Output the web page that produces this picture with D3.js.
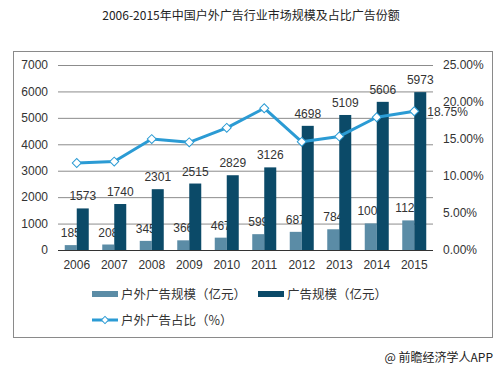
<!DOCTYPE html>
<html><head><meta charset="utf-8">
<script src="https://cdn.jsdelivr.net/npm/d3@7"></script>
<style>
html,body{margin:0;padding:0;background:#fff;}
svg{display:block;}
</style>
</head><body>
<svg id="c" width="501" height="369"></svg>
<script>
const years = ["2006","2007","2008","2009","2010","2011","2012","2013","2014","2015"];
const outdoorScale = [185,208,345,366,467,599,687,784,1006,1120];
const adScale = [1573,1740,2301,2515,2829,3126,4698,5109,5606,5973];
const outdoorShare = [11.76,11.95,14.99,14.55,16.51,19.16,14.62,15.35,17.94,18.75];
const leftTicks = [0,1000,2000,3000,4000,5000,6000,7000];
const rightTicks = [0,5,10,15,20,25];
const title = "2006-2015年中国户外广告行业市场规模及占比广告份额";
const legendNames = ["户外广告规模（亿元）","广告规模（亿元）","户外广告占比（%）"];
const source = "@ 前瞻经济学人APP";

const cLight = "#5b8ca6", cDark = "#0b4a68", cLine = "#2b9bd4";
const font = "'Liberation Sans', Arial, sans-serif";
const cjk = "'Noto Sans CJK SC', sans-serif";

const svg = d3.select("#c");
const L = 58, R = 433, T = 65, B = 250;

const x = d3.scaleBand().domain(years).range([L, R]).paddingInner(0).paddingOuter(0);
const yL = d3.scaleLinear().domain([0, 7000]).range([B, T]);
const yR = d3.scaleLinear().domain([0, 25]).range([B, T]);

// frame
svg.append("rect").attr("x", 13.5).attr("y", 51.5).attr("width", 479).attr("height", 286)
  .attr("fill", "none").attr("stroke", "#8a8a8a");

// title
svg.append("text").attr("x", 251).attr("y", 20).attr("text-anchor", "middle")
  .attr("font-family", cjk).attr("font-size", 12).attr("fill", "#222").text(title);

// gridlines
const gL = svg.append("g").attr("transform", `translate(${L},0)`)
  .call(d3.axisLeft(yL).tickValues(leftTicks).tickSize(-(R - L)).tickPadding(10).tickFormat(d3.format("d")));
gL.select(".domain").remove();
gL.selectAll(".tick line").attr("stroke", d => d === 0 ? "#333" : "#8c8c8c").attr("stroke-width", 1);
gL.selectAll(".tick text").attr("font-family", font).attr("font-size", 12).attr("fill", "#333");

const gR = svg.append("g").attr("transform", `translate(${R},0)`)
  .call(d3.axisRight(yR).tickValues(rightTicks).tickSize(0).tickPadding(10).tickFormat(d => d3.format(".2f")(d) + "%"));
gR.select(".domain").remove();
gR.selectAll(".tick text").attr("font-family", font).attr("font-size", 12).attr("fill", "#333");

// x axis labels
const gX = svg.append("g").attr("transform", `translate(0,${B})`)
  .call(d3.axisBottom(x).tickSize(0).tickPadding(10));
gX.select(".domain").remove();
gX.selectAll(".tick text").attr("font-family", font).attr("font-size", 12).attr("fill", "#333");

const bw = 12;
const cx = d => x(d) + x.bandwidth() / 2;

// light bars
svg.append("g").selectAll("rect").data(years).join("rect")
  .attr("x", (d) => cx(d) - bw).attr("width", bw)
  .attr("y", (d, i) => yL(outdoorScale[i])).attr("height", (d, i) => B - yL(outdoorScale[i]))
  .attr("fill", cLight);
// light labels (drawn before dark bars)
svg.append("g").selectAll("text").data(years).join("text")
  .attr("x", d => cx(d) - bw / 2).attr("y", (d, i) => yL(outdoorScale[i]) - 8)
  .attr("text-anchor", "middle").attr("font-family", font).attr("font-size", 12).attr("fill", "#333")
  .text((d, i) => outdoorScale[i]);
// dark bars
svg.append("g").selectAll("rect").data(years).join("rect")
  .attr("x", (d) => cx(d)).attr("width", bw)
  .attr("y", (d, i) => yL(adScale[i])).attr("height", (d, i) => B - yL(adScale[i]))
  .attr("fill", cDark);
svg.append("g").selectAll("text").data(years).join("text")
  .attr("x", d => cx(d) + bw / 2).attr("y", (d, i) => yL(adScale[i]) - 8)
  .attr("text-anchor", "middle").attr("font-family", font).attr("font-size", 12).attr("fill", "#333")
  .text((d, i) => adScale[i]);

// line
const line = d3.line().x((d, i) => cx(years[i])).y(d => yR(d));
svg.append("path").datum(outdoorShare).attr("d", line).attr("fill", "none")
  .attr("stroke", cLine).attr("stroke-width", 3).attr("stroke-linejoin", "round");
const diamond = d3.symbol().type(d3.symbolDiamond2 || d3.symbolDiamond).size(60);
svg.append("g").selectAll("path").data(outdoorShare).join("path")
  .attr("transform", (d, i) => `translate(${cx(years[i])},${yR(d)}) rotate(45)`)
  .attr("d", d3.symbol().type(d3.symbolSquare).size(40))
  .attr("fill", "#fff").attr("stroke", cLine).attr("stroke-width", 1);
// last point label
const li = outdoorShare.length - 1;
svg.append("text").attr("x", cx(years[li]) + 13).attr("y", yR(outdoorShare[li]) + 5)
  .attr("font-family", font).attr("font-size", 12).attr("fill", "#333")
  .text(d3.format(".2f")(outdoorShare[li]) + "%");

// legend
const lg = svg.append("g");
lg.append("rect").attr("x", 92).attr("y", 291).attr("width", 26).attr("height", 6).attr("fill", cLight);
lg.append("text").attr("x", 121).attr("y", 298.5).attr("font-family", cjk).attr("font-size", 12.5).attr("fill", "#333").text(legendNames[0]);
lg.append("rect").attr("x", 258).attr("y", 291).attr("width", 26).attr("height", 6).attr("fill", cDark);
lg.append("text").attr("x", 287).attr("y", 298.5).attr("font-family", cjk).attr("font-size", 12.5).attr("fill", "#333").text(legendNames[1]);
lg.append("line").attr("x1", 92).attr("x2", 118).attr("y1", 320).attr("y2", 320).attr("stroke", cLine).attr("stroke-width", 3);
lg.append("path").attr("transform", "translate(105,320) rotate(45)").attr("d", d3.symbol().type(d3.symbolSquare).size(26))
  .attr("fill", "#fff").attr("stroke", cLine).attr("stroke-width", 1);
lg.append("text").attr("x", 121).attr("y", 324.5).attr("font-family", cjk).attr("font-size", 12.5).attr("fill", "#333").text(legendNames[2]);

// source
svg.append("text").attr("x", 493).attr("y", 362).attr("text-anchor", "end")
  .attr("font-family", cjk).attr("font-size", 12).attr("fill", "#222").text(source);
</script>
</body></html>
